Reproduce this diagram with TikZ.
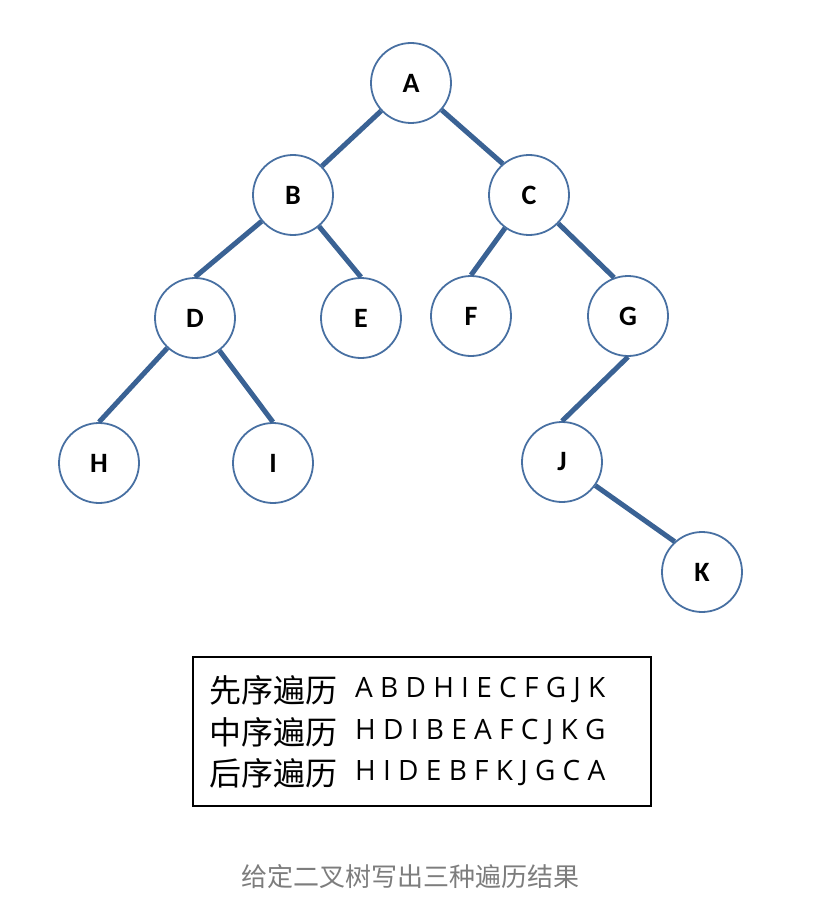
\documentclass[tikz,border=0pt]{standalone}
\usepackage{fontspec}
\newfontfamily\cjk{Noto Sans CJK SC}
\newfontfamily\lab{Carlito}
\newfontfamily\seq{Open Sans}
\definecolor{ring}{RGB}{72,112,162}
\definecolor{edgeblue}{RGB}{58,98,148}
\definecolor{captgray}{RGB}{125,125,125}
\begin{document}
\begin{tikzpicture}[x=1pt,y=-1pt,
	vertex/.style={circle,draw=ring,line width=1.8pt,minimum size=80pt,inner sep=0pt,
		font=\lab\bfseries\fontsize{28}{28}\selectfont},
	branch/.style={edgeblue,line width=5pt},
	cjkrow/.style={anchor=west,inner sep=0pt,font=\cjk\fontsize{32}{32}\selectfont},
	seqrow/.style={anchor=west,inner sep=0pt,font=\seq\fontsize{28}{28}\selectfont}]
	\useasboundingbox (0,0) rectangle (812,912);
	% cay nhi phan
	\node[vertex] (A) at (411,83) {A};
	\node[vertex] (B) at (293,195) {B};
	\node[vertex] (C) at (529,195) {C};
	\node[vertex] (D) at (195,318) {D};
	\node[vertex] (E) at (361,318) {E};
	\node[vertex] (F) at (471,316) {F};
	\node[vertex] (G) at (628,316) {G};
	\node[vertex] (H) at (99,463) {H};
	\node[vertex] (I) at (273,463) {I};
	\node[vertex] (J) at (562,462) {J};
	\node[vertex] (K) at (702,572) {K};
	\draw[branch] (A)--(B.45) (A)--(C.130);
	\draw[branch] (B)--(D.north) (B)--(E.north);
	\draw[branch] (C)--(F.north) (C)--(G.110);
	\draw[branch] (D)--(H.north) (D)--(I.north);
	\draw[branch] (G.south)--(J.north) (J)--(K.132);
	% bang ket qua
	\node[draw,line width=1.6pt,minimum width=458pt,minimum height=149pt,inner sep=0pt] (box) at (422,731.5) {};
	\node[cjkrow] (pre) at (209,690) {先序遍历};
	\node[cjkrow] (in) at (209,732) {中序遍历};
	\node[cjkrow] (post) at (209,773) {后序遍历};
	\node[seqrow] (preseq) at (355,690) {A B D H I E C F G J K};
	\node[seqrow] (inseq) at (355,732) {H D I B E A F C J K G};
	\node[seqrow] (postseq) at (355,773) {H I D E B F K J G C A};
	\node[font=\cjk\fontsize{26}{26}\selectfont,text=captgray] (cap) at (410,877) {给定二叉树写出三种遍历结果};
\end{tikzpicture}
\end{document}
